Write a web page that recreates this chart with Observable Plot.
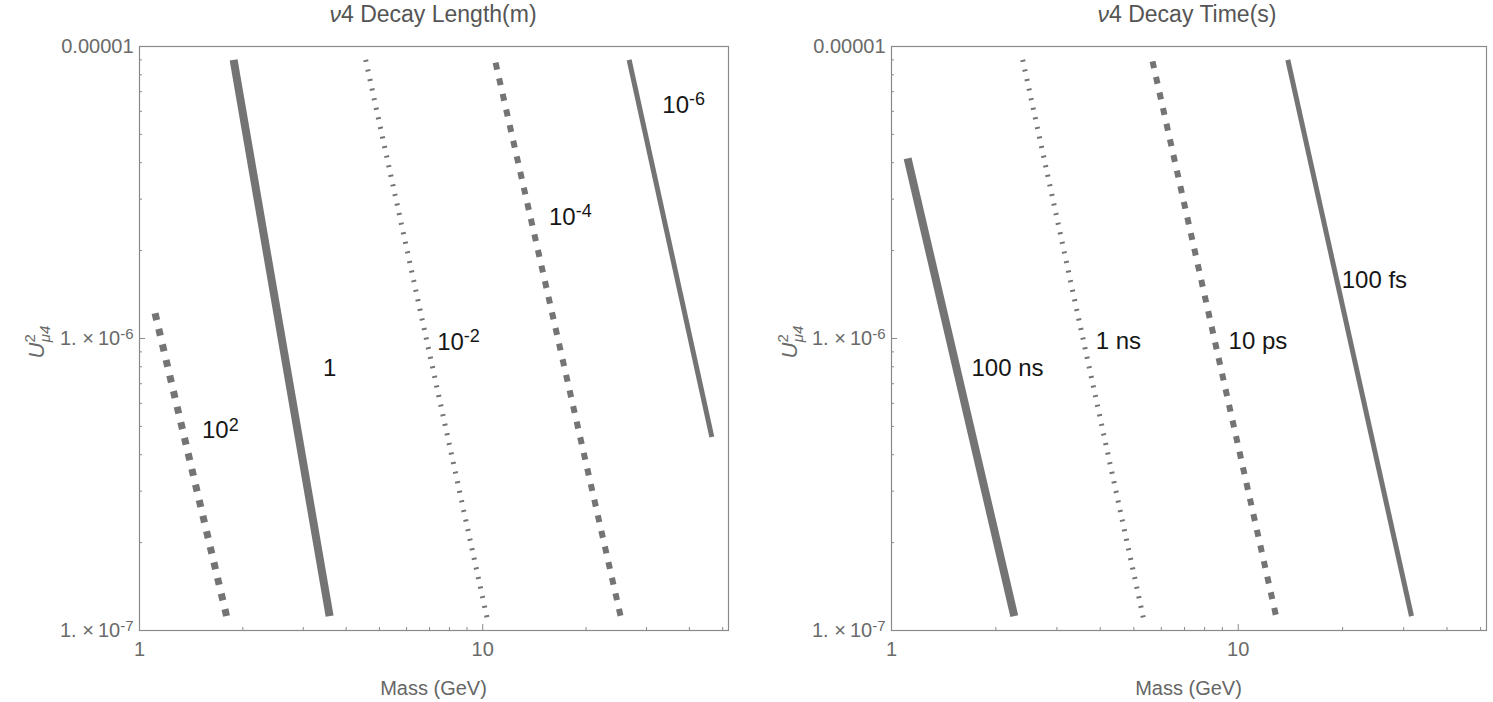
<!DOCTYPE html>
<html>
<head>
<meta charset="utf-8">
<script src="https://cdn.jsdelivr.net/npm/d3@7"></script>
<script src="https://cdn.jsdelivr.net/npm/@observablehq/plot@0.6"></script>
<style>
  html, body { margin: 0; padding: 0; background: #fff; overflow: hidden; }
  #wrap { display: flex; width: 1493px; height: 702px; }
  svg text { font-family: "Liberation Sans", Arial, Helvetica, sans-serif; }
</style>
</head>
<body>
<div id="wrap"></div>
<script>
// Axis ranges shared by both panels (mass in GeV, mixing U²μ4)
const massDomain = [1, 52];
const u2Domain = [1e-7, 1e-5];
const massMajorTicks = [1, 10];
const massMinorTicks = [2, 3, 4, 5, 6, 7, 8, 9, 20, 30, 40, 50];
const u2MajorTicks = [1e-7, 1e-6, 1e-5];
const u2MinorTicks = [2e-7, 3e-7, 4e-7, 5e-7, 6e-7, 7e-7, 8e-7, 9e-7, 2e-6, 3e-6, 4e-6, 5e-6, 6e-6, 7e-6, 8e-6, 9e-6];
// "^" marks the start of a superscript exponent
const u2TickLabels = ["1. ×\u200910^-7", "1. ×\u200910^-6", "0.00001"];

// ν4 decay length contours (m): end points of each iso-line
const lengthLevels = ["10^2", "1", "10^-2", "10^-4", "10^-6"];
const lengthMassStart = [1.11, 1.88, 4.56, 10.9, 26.7];
const lengthU2Start = [1.22e-6, 9.0e-6, 9.0e-6, 8.8e-6, 9.0e-6];
const lengthMassEnd = [1.80, 3.58, 10.3, 25.3, 46.5];
const lengthU2End = [1.1e-7, 1.12e-7, 1.1e-7, 1.1e-7, 4.6e-7];
const lengthLabelMass = [1.72, 3.58, 8.5, 18.0, 38.5];
const lengthLabelU2 = [4.84e-7, 7.9e-7, 9.7e-7, 2.6e-6, 6.3e-6];

// ν4 decay time contours (s)
const timeLevels = ["100 ns", "1 ns", "10 ps", "100 fs"];
const timeMassStart = [1.113, 2.39, 5.66, 13.9];
const timeU2Start = [4.14e-6, 9.0e-6, 8.9e-6, 9.0e-6];
const timeMassEnd = [2.26, 5.33, 12.9, 31.6];
const timeU2End = [1.12e-7, 1.1e-7, 1.1e-7, 1.12e-7];
const timeLabelMass = [2.16, 4.51, 11.4, 24.7];
const timeLabelU2 = [7.9e-7, 9.8e-7, 9.8e-7, 1.58e-6];

// Line styles: heavy solid, square dashes, fine dots, medium solid
const STYLE = {
  heavy:  {strokeWidth: 8},
  square: {strokeWidth: 7, strokeDasharray: "7,9"},
  dash:   {strokeWidth: 6, strokeDasharray: "7,9"},
  dot:    {strokeWidth: 5, strokeDasharray: "2,7.8"},
  solid:  {strokeWidth: 5}
};
const lengthStyles = ["square", "heavy", "dot", "dash", "solid"];
const timeStyles = ["heavy", "dot", "dash", "solid"];

function buildRows(levels, m0, u0, m1, u1) {
  return levels.flatMap((level, i) => [
    {level, mass: m0[i], u2: u0[i]},
    {level, mass: m1[i], u2: u1[i]}
  ]);
}
function buildLabels(levels, m, u) {
  return levels.map((level, i) => ({level, mass: m[i], u2: u[i]}));
}

// turn "a^b" text into a base with a raised exponent
function superscripts(svg) {
  svg.selectAll("text").each(function () {
    const s = this.textContent;
    if (!s.includes("^") || this.querySelector("tspan")) return;
    const [base, exp] = s.split("^");
    const el = d3.select(this);
    el.text(base);
    el.append("tspan").attr("dy", "-0.42em").style("font-size", "0.75em").text(exp);
  });
}

function panel({width, marginLeft, marginRight, levels, styles, rows, labels, title, titleX, yLabelX}) {
  const lineColor = "#747474";
  const chart = Plot.plot({
    width,
    height: 702,
    marginLeft,
    marginRight,
    marginTop: 46,
    marginBottom: 72,
    x: {type: "log", domain: massDomain},
    y: {type: "log", domain: u2Domain},
    style: {background: "transparent", overflow: "visible"},
    marks: [
      Plot.frame({stroke: "#8a8a8a", strokeWidth: 1.2}),
      // inward frame ticks
      Plot.axisX(massMajorTicks, {tickSize: -6, tickFormat: () => "", label: null, stroke: "#8a8a8a"}),
      Plot.axisX(massMinorTicks, {tickSize: -3, tickFormat: () => "", label: null, stroke: "#8a8a8a"}),
      Plot.axisY(u2MajorTicks, {tickSize: -6, tickFormat: () => "", label: null, stroke: "#8a8a8a"}),
      Plot.axisY(u2MinorTicks, {tickSize: -3, tickFormat: () => "", label: null, stroke: "#8a8a8a"}),
      // tick labels
      Plot.axisX(massMajorTicks, {tickSize: 0, tickPadding: 11, tickFormat: d => String(d), fontSize: 20, fill: "#6a6a6a", label: null}),
      Plot.axisY(u2MajorTicks, {tickSize: 0, tickPadding: 6, tickFormat: d => u2TickLabels[u2MajorTicks.indexOf(d)], fontSize: 20, fill: "#6a6a6a", label: null}),
      // contour lines
      ...levels.map((level, i) => Plot.line(rows.filter(d => d.level === level), {
        x: "mass", y: "u2", stroke: lineColor, strokeLinecap: "butt", ...STYLE[styles[i]]
      })),
      // contour labels
      Plot.text(labels, {x: "mass", y: "u2", text: "level", fontSize: 24, fill: "#161616"})
    ]
  });

  const svg = d3.select(chart);
  superscripts(svg);

  // title with italic ν
  const t = svg.append("text")
    .attr("x", titleX).attr("y", 22)
    .attr("text-anchor", "middle")
    .style("font-size", "23px")
    .attr("fill", "#555");
  t.append("tspan").attr("font-style", "italic").text("ν");
  t.append("tspan").text(title);

  // x axis title
  svg.append("text")
    .attr("x", marginLeft + (width - marginLeft - marginRight) / 2)
    .attr("y", 695)
    .attr("text-anchor", "middle")
    .style("font-size", "20px")
    .attr("fill", "#666")
    .text("Mass (GeV)");

  // y axis title U²μ4
  const yl = svg.append("text")
    .attr("transform", `translate(${yLabelX},342) rotate(-90)`)
    .attr("text-anchor", "middle")
    .style("font-size", "22px")
    .attr("fill", "#6a6a6a");
  yl.append("tspan").attr("font-style", "italic").text("U");
  yl.append("tspan").style("font-size", "15px").attr("dy", -9).text("2");
  yl.append("tspan").style("font-size", "15px").attr("font-style", "italic").attr("dx", -8).attr("dy", 15).text("μ4");
  return chart;
}

const wrap = document.getElementById("wrap");
wrap.append(panel({
  width: 750, marginLeft: 139, marginRight: 22,
  levels: lengthLevels, styles: lengthStyles,
  rows: buildRows(lengthLevels, lengthMassStart, lengthU2Start, lengthMassEnd, lengthU2End),
  labels: buildLabels(lengthLevels, lengthLabelMass, lengthLabelU2),
  title: "4 Decay Length(m)", titleX: 433, yLabelX: 44
}));
wrap.append(panel({
  width: 743, marginLeft: 141, marginRight: 7,
  levels: timeLevels, styles: timeStyles,
  rows: buildRows(timeLevels, timeMassStart, timeU2Start, timeMassEnd, timeU2End),
  labels: buildLabels(timeLevels, timeLabelMass, timeLabelU2),
  title: "4 Decay Time(s)", titleX: 437, yLabelX: 47
}));
</script>
</body>
</html>
